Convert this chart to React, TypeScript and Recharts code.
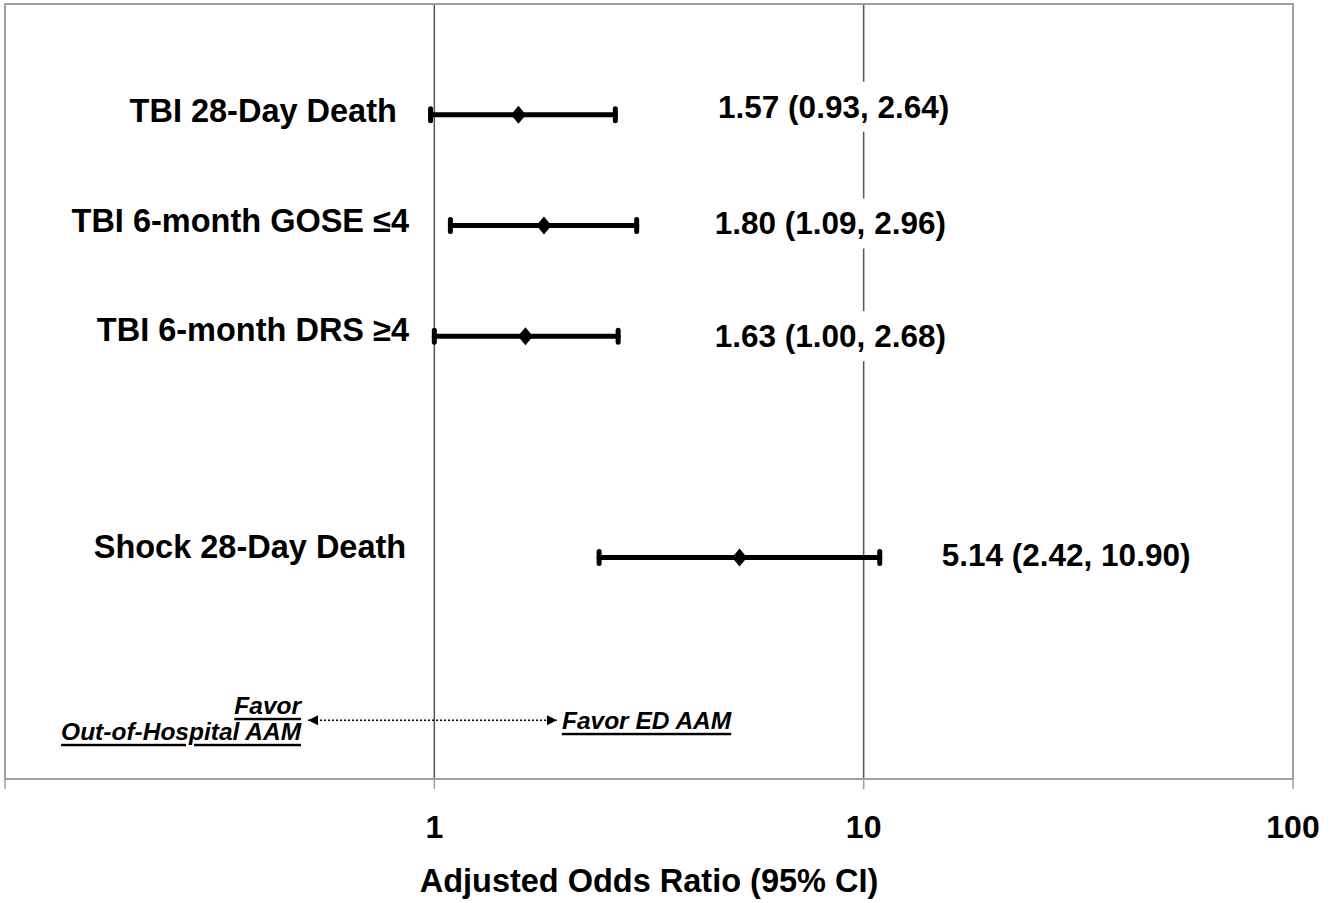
import {
  ComposedChart,
  Scatter,
  ErrorBar,
  XAxis,
  YAxis,
  CartesianGrid,
  ReferenceLine,
  ReferenceArea,
  ReferenceDot,
} from "recharts"

const outcomes = [
  "TBI 28-Day Death",
  "TBI 6-month GOSE ≤4",
  "TBI 6-month DRS ≥4",
  "Shock 28-Day Death",
]
const rowPos = [1, 2, 3, 5]
const oddsRatio = [1.57, 1.8, 1.63, 5.14]
// lower ends as drawn in the figure (row 1 bar starts just left of 1)
const ciLow = [0.98, 1.09, 1.0, 2.42]
const ciHigh = [2.64, 2.96, 2.68, 10.9]
const ciText = [
  "1.57 (0.93, 2.64)",
  "1.80 (1.09, 2.96)",
  "1.63 (1.00, 2.68)",
  "5.14 (2.42, 10.90)",
]
const xTicks = [0.1, 1, 10, 100]

// label placement (x in axis units, dy in px)
const noteX = [4.58, 4.5, 4.5, 15.2]
const noteDy = [-8, -2, 0, -3]
const nameX = [0.818, 0.873, 0.873, 0.86]
const nameDy = [-4, -4, -6, -11]
const arrowY = 6.47
const arrowFrom = 0.508
const arrowTo = 1.93

const FONT = "'Liberation Sans', Arial, sans-serif"

const rows = outcomes.map((name, i) => ({
  name,
  row: rowPos[i],
  or: oddsRatio[i],
  err: [oddsRatio[i] - ciLow[i], ciHigh[i] - oddsRatio[i]],
}))

const notes = ciText.map((text, i) => ({
  text,
  row: rowPos[i],
  or: noteX[i],
  dy: noteDy[i],
}))

const names = outcomes.map((text, i) => ({
  text,
  row: rowPos[i],
  or: nameX[i],
  dy: nameDy[i],
}))

const Diamond = ({ cx, cy }: any) => (
  <polygon
    points={`${cx},${cy - 9} ${cx + 7.5},${cy} ${cx},${cy + 9} ${cx - 7.5},${cy}`}
    fill="#000"
  />
)

const Note = ({ cx, cy, payload }: any) => (
  <g>
    <rect x={cx - 6} y={cy + payload.dy - 25} width={252} height={50} fill="#fff" />
    <text
      x={cx}
      y={cy + payload.dy}
      dominantBaseline="central"
      fontFamily={FONT}
      fontWeight="bold"
      fontSize={31.5}
      fill="#000"
    >
      {payload.text}
    </text>
  </g>
)

const Name = ({ cx, cy, payload }: any) => (
  <text
    x={cx}
    y={cy + payload.dy}
    textAnchor="end"
    dominantBaseline="central"
    fontFamily={FONT}
    fontWeight="bold"
    fontSize={32.5}
    fill="#000"
  >
    {payload.text}
  </text>
)

const italic = {
  dominantBaseline: "central" as const,
  fontFamily: FONT,
  fontWeight: "bold",
  fontStyle: "italic",
  fontSize: 24.5,
  textDecoration: "underline",
  fill: "#000",
}

const LeftArrow = ({ cx, cy }: any) => (
  <g>
    <polygon points={`${cx},${cy} ${cx + 10},${cy - 5} ${cx + 10},${cy + 5}`} fill="#000" />
    <text x={cx - 7} y={cy - 15} textAnchor="end" {...italic}>
      Favor
    </text>
    <text x={cx - 7} y={cy + 11} textAnchor="end" {...italic}>
      Out-of-Hospital AAM
    </text>
  </g>
)

const RightArrow = ({ cx, cy }: any) => (
  <g>
    <polygon points={`${cx},${cy} ${cx - 10},${cy - 5} ${cx - 10},${cy + 5}`} fill="#000" />
    <text x={cx + 5} y={cy} {...italic}>
      Favor ED AAM
    </text>
  </g>
)

export default function App() {
  return (
    <div style={{ position: "absolute", left: 0, top: 0, background: "#fff" }}>
      <ComposedChart
        width={1330}
        height={900}
        margin={{ top: 4, right: 37, bottom: 0, left: 5 }}
      >
        <CartesianGrid horizontal={false} stroke="#555" strokeWidth={1.5} />
        <XAxis
          type="number"
          dataKey="or"
          scale="log"
          domain={[0.1, 100]}
          ticks={xTicks}
          allowDataOverflow
          height={121}
          tickSize={10}
          tickMargin={26}
          tickLine={{ stroke: "#a0a0a0", strokeWidth: 1.5 }}
          axisLine={{ stroke: "#a0a0a0", strokeWidth: 2 }}
          tickFormatter={(v: number) => (v < 1 ? "" : String(v))}
          tick={{ fontFamily: FONT, fontWeight: "bold", fontSize: 32, fill: "#000" }}
          label={{
            value: "Adjusted Odds Ratio (95% CI)",
            position: "insideBottom",
            offset: 8,
            fontFamily: FONT,
            fontWeight: "bold",
            fontSize: 32.5,
            fill: "#000",
          }}
        />
        <YAxis type="number" dataKey="row" domain={[0, 7]} reversed hide />
        <ReferenceArea
          x1={0.1}
          x2={100}
          y1={0}
          y2={7}
          fill="none"
          stroke="#a0a0a0"
          strokeWidth={2}
        />
        <ReferenceLine
          segment={[
            { x: arrowFrom, y: arrowY },
            { x: arrowTo, y: arrowY },
          ]}
          stroke="#000"
          strokeWidth={1.5}
          strokeDasharray="2 2"
        />
        <ReferenceDot x={arrowFrom} y={arrowY} shape={<LeftArrow />} />
        <ReferenceDot x={arrowTo} y={arrowY} shape={<RightArrow />} />
        <Scatter data={names} shape={<Name />} isAnimationActive={false} />
        <Scatter data={notes} shape={<Note />} isAnimationActive={false} />
        <Scatter data={rows} shape={<Diamond />} isAnimationActive={false}>
          <ErrorBar
            dataKey="err"
            direction="x"
            width={6}
            strokeWidth={5}
            stroke="#000"
            strokeLinecap="round"
          />
        </Scatter>
      </ComposedChart>
    </div>
  )
}
